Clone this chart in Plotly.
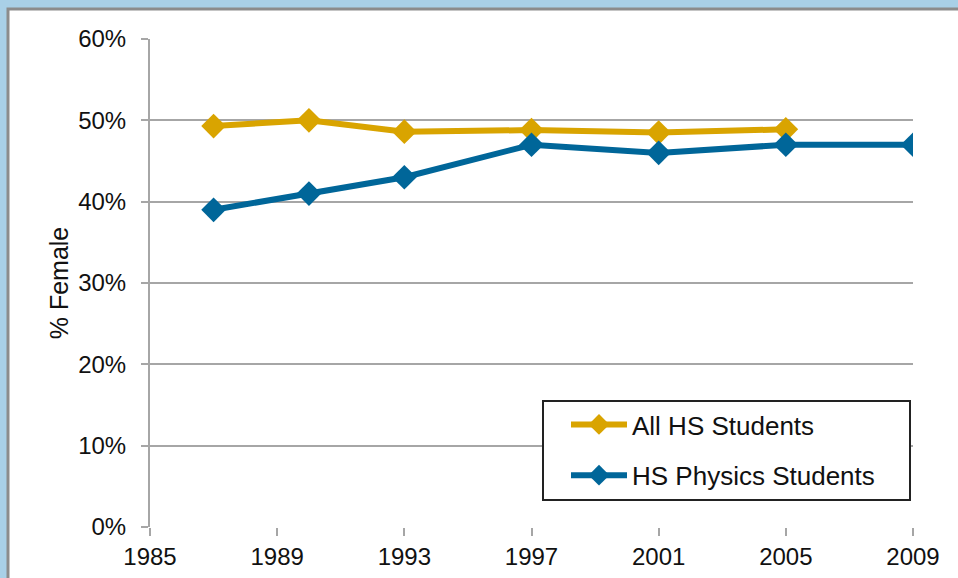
import plotly.graph_objects as go

years_all = [1987, 1990, 1993, 1997, 2001, 2005]
all_hs = [0.493, 0.500, 0.486, 0.488, 0.485, 0.489]
years_phys = [1987, 1990, 1993, 1997, 2001, 2005, 2009]
phys = [0.39, 0.41, 0.43, 0.47, 0.46, 0.47, 0.47]
x_ticks = [1985, 1989, 1993, 1997, 2001, 2005, 2009]
y_ticks = [0, 0.1, 0.2, 0.3, 0.4, 0.5, 0.6]

GOLD = "#D9A400"
BLUE = "#006699"
FONT = "Liberation Sans, Arial, sans-serif"

fig = go.Figure()
fig.add_trace(go.Scatter(x=years_all, y=all_hs, name="All HS Students", mode="lines+markers",
                         line=dict(color=GOLD, width=6), marker=dict(symbol="diamond", size=19, color=GOLD),
                         legendgroup="a"))
fig.add_trace(go.Scatter(x=years_phys, y=phys, name="HS Physics Students", mode="lines+markers",
                         line=dict(color=BLUE, width=6), marker=dict(symbol="diamond", size=19, color=BLUE),
                         legendgroup="b"))

W, H = 958, 578
L, R, T, B = 150, 45, 39, 51
pw, ph = W - L - R, H - T - B

def px_x(p):
    return (p - L) / pw

def px_y(p):
    return (H - B - p) / ph

# white panel with grey border
fig.add_shape(type="rect", xref="paper", yref="paper",
              x0=px_x(8), x1=px_x(990), y0=px_y(9), y1=px_y(620),
              fillcolor="white", line=dict(color="#8c8c8c", width=3), layer="below")
# legend box
fig.add_shape(type="rect", xref="paper", yref="paper",
              x0=px_x(543), x1=px_x(910), y0=px_y(401), y1=px_y(500),
              fillcolor="white", line=dict(color="#222", width=2), layer="above")

fig.update_layout(
    width=W, height=H,
    margin=dict(l=L, r=R, t=T, b=B, autoexpand=False),
    paper_bgcolor="#A9D0E7", plot_bgcolor="rgba(0,0,0,0)",
    font=dict(family=FONT, size=24, color="#111"),
    showlegend=True,
    legend=dict(x=px_x(566), y=px_y(401), xanchor="left", yanchor="top",
                bgcolor="rgba(0,0,0,0)", borderwidth=0,
                font=dict(size=26, family=FONT, color="#111"),
                itemwidth=56, tracegroupgap=14, traceorder="grouped"),
    xaxis=dict(range=[1985, 2009], tickvals=x_ticks, ticktext=[str(v) for v in x_ticks],
               showgrid=False, zeroline=False, showline=False, automargin=False,
               ticks="outside", ticklen=8, tickcolor="#a6a6a6", tickwidth=2,
               tickfont=dict(size=24, family=FONT, color="#111")),
    yaxis=dict(range=[0, 0.6], tickvals=y_ticks, tickformat=".0%", automargin=False,
               showgrid=True, gridcolor="#a6a6a6", gridwidth=2,
               zeroline=False, showline=True, linecolor="#a6a6a6", linewidth=2,
               ticks="outside", ticklen=7, tickcolor="#a6a6a6", tickwidth=2,
               ticklabelstandoff=10,
               tickfont=dict(size=24, family=FONT, color="#111")),
)
fig.update_yaxes(title=dict(text="% Female", font=dict(size=25, family=FONT, color="#111"), standoff=2))

fig.write_html("out.html", config={"displayModeBar": False},
               post_script="document.body.style.margin='0';document.body.style.padding='0';document.body.style.background='#A9D0E7';")
